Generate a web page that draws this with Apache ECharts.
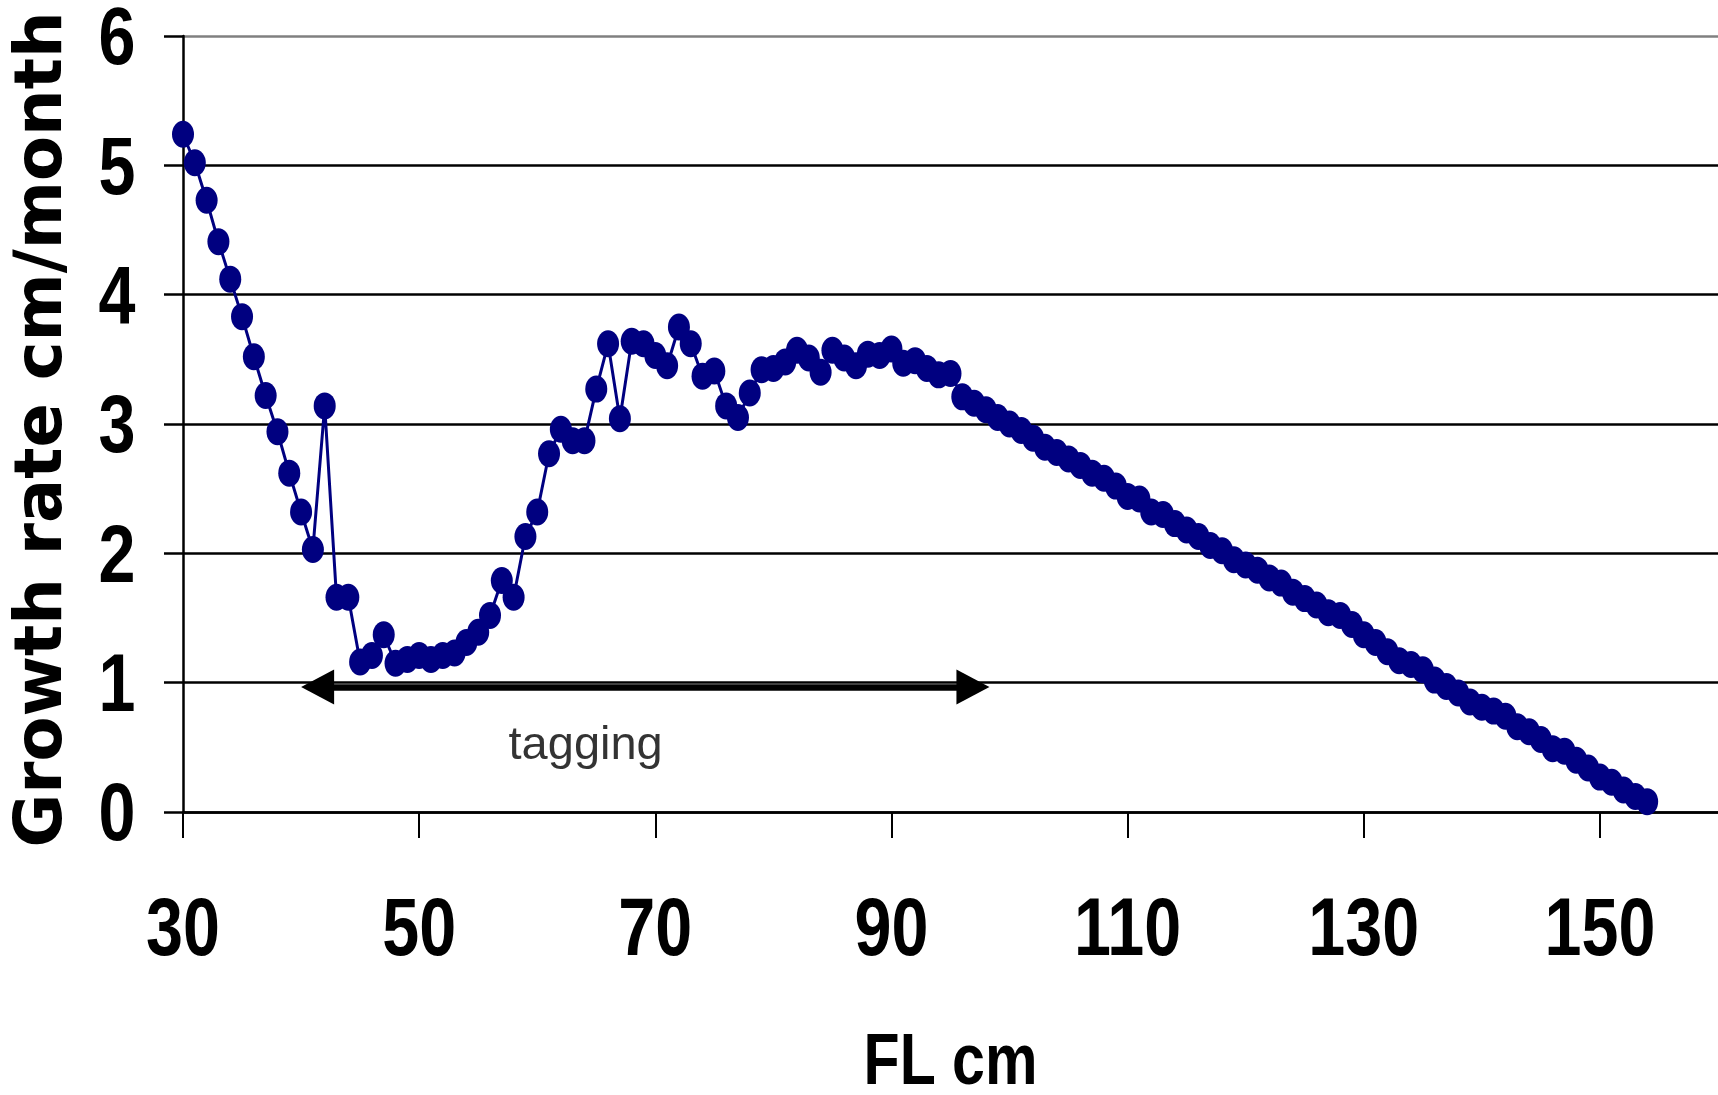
<!DOCTYPE html>
<html>
<head>
<meta charset="utf-8">
<script src="https://cdn.jsdelivr.net/npm/echarts@6/dist/echarts.min.js"></script>
<style>
  html, body { margin: 0; padding: 0; background: #ffffff; }
  #chart { width: 1718px; height: 1095px; }
</style>
</head>
<body>
<div id="chart"></div>
<script>
// Fork length (cm)
const forkLength = [
  30, 31, 32, 33, 34, 35, 36, 37, 38, 39, 40, 41, 42, 43, 44, 45, 46, 47, 48, 49,
  50, 51, 52, 53, 54, 55, 56, 57, 58, 59, 60, 61, 62, 63, 64, 65, 66, 67, 68, 69,
  70, 71, 72, 73, 74, 75, 76, 77, 78, 79, 80, 81, 82, 83, 84, 85, 86, 87, 88, 89,
  90, 91, 92, 93, 94, 95, 96, 97, 98, 99, 100, 101, 102, 103, 104, 105, 106, 107, 108, 109,
  110, 111, 112, 113, 114, 115, 116, 117, 118, 119, 120, 121, 122, 123, 124, 125, 126, 127, 128, 129,
  130, 131, 132, 133, 134, 135, 136, 137, 138, 139, 140, 141, 142, 143, 144, 145, 146, 147, 148, 149,
  150, 151, 152, 153, 154
];
// Growth rate (cm/month)
const growthRate = [
  5.24, 5.02, 4.73, 4.41, 4.12, 3.83, 3.52, 3.22, 2.94, 2.62, 2.32, 2.03, 3.14, 1.66, 1.66, 1.16, 1.21, 1.37, 1.15, 1.18,
  1.21, 1.18, 1.21, 1.23, 1.31, 1.39, 1.52, 1.79, 1.66, 2.13, 2.32, 2.77, 2.96, 2.87, 2.87, 3.27, 3.62, 3.04, 3.64, 3.62,
  3.53, 3.45, 3.75, 3.62, 3.37, 3.41, 3.14, 3.05, 3.24, 3.42, 3.43, 3.48, 3.57, 3.51, 3.40, 3.57, 3.51, 3.45, 3.54, 3.53,
  3.58, 3.47, 3.49, 3.43, 3.38, 3.39, 3.21, 3.16, 3.11, 3.05, 3.00, 2.95, 2.89, 2.82, 2.78, 2.73, 2.68, 2.62, 2.58, 2.52,
  2.44, 2.42, 2.32, 2.30, 2.23, 2.18, 2.13, 2.06, 2.02, 1.95, 1.91, 1.87, 1.81, 1.77, 1.70, 1.65, 1.60, 1.54, 1.52, 1.45,
  1.37, 1.31, 1.24, 1.17, 1.14, 1.10, 1.02, 0.97, 0.92, 0.85, 0.81, 0.78, 0.74, 0.66, 0.62, 0.56, 0.49, 0.47, 0.40, 0.34,
  0.27, 0.23, 0.17, 0.12, 0.08
];
// Axis ticks
const xTicks = [30, 50, 70, 90, 110, 130, 150];
const yTicks = [0, 1, 2, 3, 4, 5, 6];
const xAxisTitle = 'FL cm';
const yAxisTitle = 'Growth rate cm/month';
// Annotation: tagging range arrow (shaft ends) and label position
const taggingArrowX = [41.4, 96.9];
const taggingArrowY = [0.966, 0.966];
const taggingLabelPos = [64.1, 0.51];
const taggingLabel = 'tagging';

const boldFont = "'Liberation Sans', Arial, sans-serif";
const navy = '#000080';

const seriesData = forkLength.map((x, i) => [x, growthRate[i]]);

const chart = echarts.init(document.getElementById('chart'), null, { renderer: 'canvas' });
chart.setOption({
  animation: false,
  backgroundColor: '#ffffff',
  grid: {
    left: 183, right: 0, top: 36, bottom: 283,
    containLabel: false,
    outerBoundsMode: 'none'
  },
  xAxis: {
    type: 'value',
    min: xTicks[0],
    max: 160,
    interval: xTicks[1] - xTicks[0],
    axisLine: { show: true, onZero: false, lineStyle: { color: '#000', width: 2.5 } },
    axisTick: { show: true, inside: false, length: 26, customValues: xTicks, lineStyle: { color: '#000', width: 2 } },
    axisLabel: { show: false },
    splitLine: { show: false }
  },
  yAxis: {
    type: 'value',
    min: yTicks[0],
    max: yTicks[yTicks.length - 1],
    interval: 1,
    name: yAxisTitle,
    nameLocation: 'middle',
    nameGap: 106,
    nameTextStyle: {
      fontFamily: "'DejaVu Sans', sans-serif", fontWeight: 'bold', fontSize: 65.5, color: '#000',
      padding: [0, 11, 0, 0]
    },
    axisLine: { show: true, lineStyle: { color: '#000', width: 2.5 } },
    axisTick: { show: true, inside: false, length: 19, lineStyle: { color: '#000', width: 2.5 } },
    axisLabel: { show: false },
    splitLine: {
      show: true,
      lineStyle: { color: ['#000', '#000', '#000', '#000', '#000', '#000', '#808080'], width: 2.5 }
    }
  },
  series: [
    {
      name: 'tagging',
      type: 'scatter',
      silent: true,
      z: 1,
      symbolSize: 0,
      data: [taggingLabelPos],
      label: {
        show: true,
        position: 'inside',
        formatter: taggingLabel,
        fontFamily: "'Liberation Sans', Arial, sans-serif",
        fontSize: 47,
        color: '#000'
      },
      markLine: {
        silent: true,
        symbol: ['triangle', 'triangle'],
        symbolSize: [35, 33],
        label: { show: false },
        lineStyle: { color: '#000', width: 6.5, type: 'solid' },
        itemStyle: { color: '#000' },
        data: [[
          { coord: [taggingArrowX[0], taggingArrowY[0]] },
          { coord: [taggingArrowX[1], taggingArrowY[1]] }
        ]]
      }
    },
    {
      name: 'Growth rate',
      type: 'line',
      z: 3,
      data: seriesData,
      symbol: 'circle',
      symbolSize: [22, 27],
      showAllSymbol: true,
      lineStyle: { color: navy, width: 3 },
      itemStyle: { color: navy, borderWidth: 0 }
    }
  ]
});

// Tick labels and x title drawn as narrow bold text (Arial Narrow look),
// positioned through the chart's own axis scales.
const narrowScale = 0.82;
const y0px = chart.convertToPixel({ yAxisIndex: 0 }, yTicks[0]);
const xLeftPx = chart.convertToPixel({ xAxisIndex: 0 }, xTicks[0]);
const xRightPx = chart.convertToPixel({ xAxisIndex: 0 }, 160);
const textStyle = (txt, align, size) => ({
  text: txt, fill: '#000', fontFamily: boldFont, fontWeight: 'bold', fontSize: size,
  align: align, verticalAlign: 'middle'
});
const graphics = [];
xTicks.forEach(v => {
  graphics.push({
    type: 'text', silent: true, z: 50,
    x: chart.convertToPixel({ xAxisIndex: 0 }, v),
    y: y0px + 121,
    scaleX: narrowScale,
    style: textStyle(String(v), 'center', 81)
  });
});
yTicks.forEach(v => {
  graphics.push({
    type: 'text', silent: true, z: 50,
    x: xLeftPx - 47.5,
    y: chart.convertToPixel({ yAxisIndex: 0 }, v) + 6,
    scaleX: narrowScale,
    style: textStyle(String(v), 'right', 81)
  });
});
graphics.push({
  type: 'text', silent: true, z: 50,
  x: (xLeftPx + xRightPx) / 2,
  y: y0px + 252,
  scaleX: narrowScale,
  style: textStyle(xAxisTitle, 'center', 72)
});
chart.setOption({ graphic: graphics });
</script>
</body>
</html>
